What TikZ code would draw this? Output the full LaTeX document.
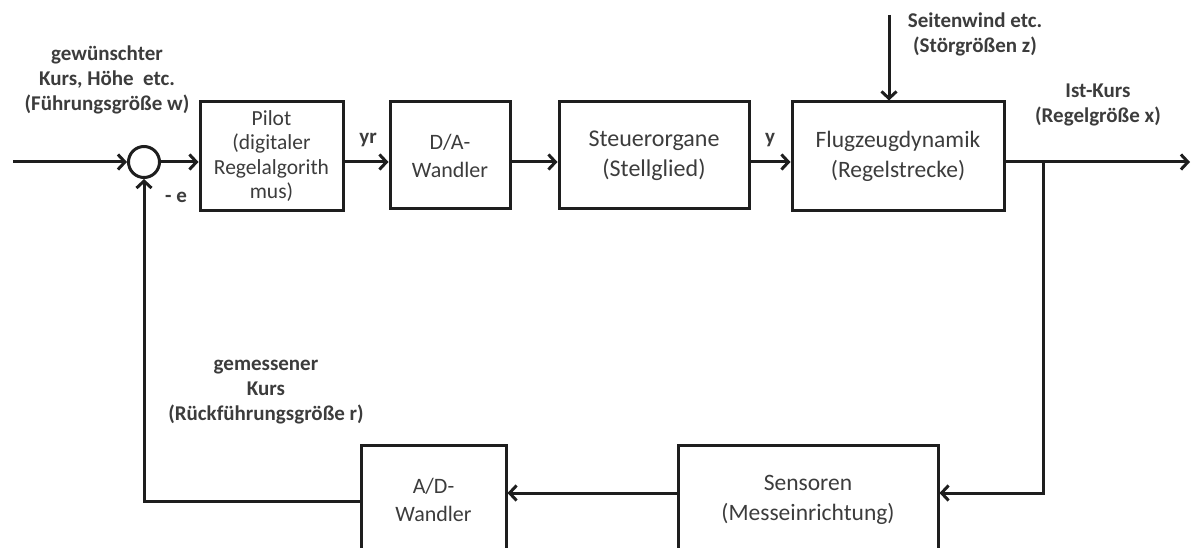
\documentclass[tikz,border=0pt]{standalone}
\usepackage{fontspec}
\setmainfont{Carlito}
\usetikzlibrary{arrows.meta,calc}
\definecolor{txt}{HTML}{3C3C3C}
\definecolor{ln}{HTML}{1E1E1E}
\tikzset{
  blk/.style={draw=ln, line width=3pt, rectangle, inner sep=0pt, align=center, text=txt},
  conn/.style={draw=ln, line width=3pt, -{Straight Barb[length=7pt,width=15pt]}},
  lbl/.style={text=txt, font=\bfseries\fontsize{21}{25}\selectfont, align=center, inner sep=0pt},
}
\begin{document}
\begin{tikzpicture}[x=1pt,y=-1pt]
\useasboundingbox (0,0) rectangle (1192,548);
\clip (0,0) rectangle (1192,548);
% blocks
\node[blk, minimum width=143, minimum height=109, font=\fontsize{21.5}{24.5}\selectfont] (pilot) at (271.5,156) {Pilot\\(digitaler\\Regelalgorith\\mus)};
\node[blk, minimum width=120, minimum height=107, font=\fontsize{22}{28}\selectfont] (da) at (450,155.5) {D/A-\\Wandler};
\node[blk, minimum width=190, minimum height=107, font=\fontsize{24}{30}\selectfont] (st) at (654,155.5) {Steuerorgane\\(Stellglied)};
\node[blk, minimum width=212, minimum height=109, font=\fontsize{23.5}{30}\selectfont] (fl) at (898,156.5) {Flugzeugdynamik\\(Regelstrecke)};
\node[blk, minimum width=260, minimum height=110, font=\fontsize{23.5}{30}\selectfont] (se) at (808,500) {Sensoren\\(Messeinrichtung)};
\node[blk, minimum width=145, minimum height=110, font=\fontsize{22}{28}\selectfont] (ad) at (433.5,500) {A/D-\\Wandler};
\node[draw=ln, line width=3pt, circle, minimum size=31, inner sep=0pt] (sum) at (144,162) {};
% coordinates
\coordinate (in) at (13,162);
\coordinate (out) at (1190,162);
\coordinate (br) at (1043,162);
\coordinate (brd) at (1043,493);
\coordinate (dist) at (889,15);
\coordinate (fb) at (144,501);
% connectors
\draw[conn] (in) -- (sum.west);
\draw[conn] (sum.east) -- (sum.east -| pilot.west);
\draw[conn] (pilot.east |- sum) -- (da.west |- sum);
\draw[conn] (da.east |- sum) -- (st.west |- sum);
\draw[conn] (st.east |- sum) -- (fl.west |- sum);
\draw[conn] (fl.east |- sum) -- (out);
\draw[conn] (br) -- (brd) -- (brd -| se.east);
\draw[conn] (se.west |- brd) -- (ad.east |- brd);
\draw[conn] (ad.west |- fb) -- (fb) -- (sum.south);
\draw[conn] (dist) -- (dist |- fl.north);
% labels
\node[lbl] (lw) at (107,80) {gewünschter\\Kurs, Höhe\ \ etc.\\(Führungsgröße w)};
\node[lbl] (le) at (176,197) {- e};
\node[lbl] (lyr) at (368,140) {yr};
\node[lbl] (ly) at (770,140) {y};
\node[lbl] (lz) at (975,34) {Seitenwind etc.\\(Störgrößen z)};
\node[lbl] (lx) at (1098,105) {Ist-Kurs\\(Regelgröße x)};
\node[lbl] (lr) at (266,392) {gemessener\\Kurs\\(Rückführungsgröße r)};
\end{tikzpicture}
\end{document}
